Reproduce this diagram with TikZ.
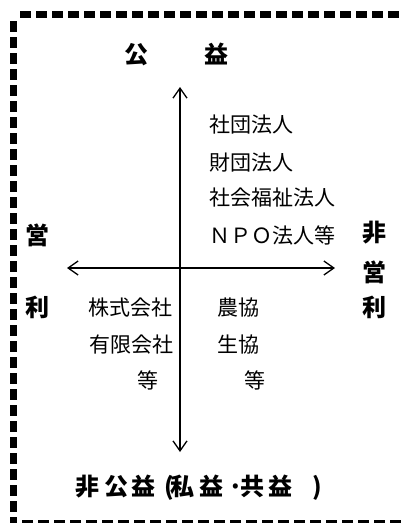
\documentclass[tikz,border=0pt]{standalone}
\usepackage{fontspec}
\setmainfont{Noto Sans CJK JP}
\usetikzlibrary{arrows.meta}
\begin{document}
\begin{tikzpicture}[x=1pt,y=-1pt,
  head/.style={font=\fontsize{24}{28}\selectfont\bfseries, inner sep=0pt},
  body/.style={font=\fontsize{21}{25}\selectfont, inner sep=0pt},
  axis/.style={line width=1.3pt, -{Straight Barb[length=10pt,width=14pt,line width=1.3pt]}},
  frame/.style={line width=6.5pt, dash pattern=on 11pt off 5pt}]
\useasboundingbox (0,0) rectangle (402,523);
\begin{scope}
\clip (0,0) rectangle (402,523);
\draw[frame] (20,14.5) -- (410,14.5);
\draw[frame] (13.5,21) -- (13.5,530);
\draw[line width=3pt, dash pattern=on 11pt off 5pt] (22,521.5) -- (410,521.5);
\end{scope}
% axes
\coordinate (c) at (180,268);
\coordinate (top) at (180,87);
\coordinate (bot) at (180,452);
\coordinate (lft) at (67,268);
\coordinate (rgt) at (335,268);
\draw[axis] (c) -- (top);
\draw[axis] (c) -- (bot);
\draw[axis] (c) -- (lft);
\draw[axis] (c) -- (rgt);
% headings
\node[head] (koueki) at (176.5,54) {公\hspace{57pt}益};
\node[head] (ei1) at (38,235) {営};
\node[head] (ri1) at (38,307) {利};
\node[head] (hi2) at (374,233) {非};
\node[head] (ei2) at (374,272) {営};
\node[head] (ri2) at (374,307) {利};
\node[head] (hikoueki) at (199,488) {非\kern5pt 公\kern3pt 益\kern9pt (\kern-4pt 私\kern5pt 益\kern5pt ·\kern-2pt 共\kern4pt 益\kern20pt )};
% upper right
\node[body, anchor=west] (t1) at (209,125) {社団法人};
\node[body, anchor=west] (t2) at (209,163) {財団法人};
\node[body, anchor=west] (t3) at (209,198) {社会福祉法人};
\node[body, anchor=west] (t4) at (209,235) {ＮＰＯ法人等};
% lower left
\node[body, anchor=east] (l1) at (173,308) {株式会社};
\node[body, anchor=east] (l2) at (174,345) {有限会社};
\node[body] (l3) at (148,380) {等};
% lower right
\node[body, anchor=west] (r1) at (217,308) {農協};
\node[body, anchor=west] (r2) at (217,345) {生協};
\node[body] (r3) at (255,380) {等};
\end{tikzpicture}
\end{document}
